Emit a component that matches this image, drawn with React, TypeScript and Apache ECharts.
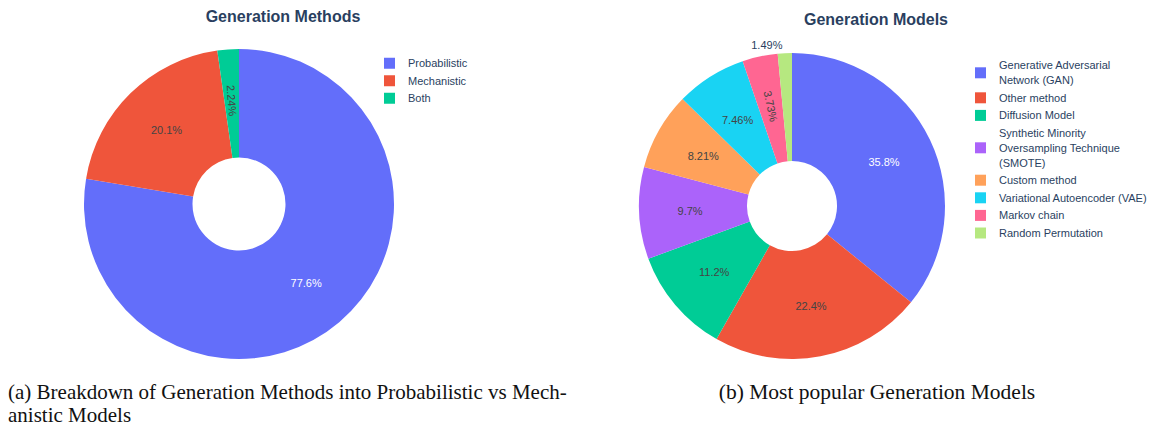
import React, { useEffect, useRef } from "react";
import * as echarts from "echarts";

// ---- data ----
const methodNames = ["Probabilistic", "Mechanistic", "Both"];
const methodCounts = [104, 27, 3];

const modelNames = [
  "Generative Adversarial Network (GAN)",
  "Other method",
  "Diffusion Model",
  "Synthetic Minority Oversampling Technique (SMOTE)",
  "Custom method",
  "Variational Autoencoder (VAE)",
  "Markov chain",
  "Random Permutation",
];
const modelLegendLabels = [
  "Generative Adversarial\nNetwork (GAN)",
  "Other method",
  "Diffusion Model",
  "Synthetic Minority\nOversampling Technique\n(SMOTE)",
  "Custom method",
  "Variational Autoencoder (VAE)",
  "Markov chain",
  "Random Permutation",
];
const modelCounts = [48, 30, 15, 13, 11, 10, 5, 2];

const palette = ["#636efa", "#EF553B", "#00cc96", "#ab63fa", "#FFA15A", "#19d3f3", "#FF6692", "#B6E880"];

const titleLeft = "Generation Methods";
const titleRight = "Generation Models";
const captionLeft = "(a) Breakdown of Generation Methods into Probabilistic vs Mech-\nanistic Models";
const captionRight = "(b) Most popular Generation Models";

const SANS = "'Liberation Sans', Arial, sans-serif";
const SERIF = "'Liberation Serif', 'Times New Roman', serif";

function pctFormatter(counts: number[]) {
  const total = counts.reduce((a, b) => a + b, 0);
  return (p: any) => parseFloat(((p.value / total) * 100).toPrecision(3)) + "%";
}

export default function App() {
  const ref = useRef<HTMLDivElement>(null);
  useEffect(() => {
    if (!ref.current) return;
    const chart = echarts.init(ref.current, undefined, { renderer: "svg" });

    const methodData = methodNames.map((n, i) => {
      const d: any = { name: n, value: methodCounts[i], itemStyle: { color: palette[i] } };
      if (i === 0) d.label = { color: "#ffffff" };
      if (i === 2) d.label = { rotate: "radial" };
      return d;
    });
    const modelData = modelNames.map((n, i) => {
      const d: any = { name: n, value: modelCounts[i], itemStyle: { color: palette[i] } };
      if (i === 0) d.label = { color: "#ffffff" };
      if (i === 6) d.label = { rotate: "radial" };
      if (i === 7) {
        d.label = { position: "outside", color: "#2a3f5f", distanceToLabelLine: 2 };
        d.labelLine = { show: false, length: 8, length2: 0 };
      }
      return d;
    });

    const labelBase = {
      show: true,
      position: "inside",
      fontSize: 11,
      fontFamily: SANS,
      color: "#444444",
    };

    const legendBase = {
      orient: "vertical",
      icon: "rect",
      itemWidth: 11,
      itemHeight: 11,
      padding: 0,
      selectedMode: false,
      textStyle: {
        fontSize: 11,
        fontFamily: SANS,
        color: "#2a3f5f",
        padding: [0, 0, 0, 8],
      },
    };

    chart.setOption({
      animation: false,
      backgroundColor: "#ffffff",
      legend: [
        {
          ...legendBase,
          data: methodNames,
          left: 384,
          top: 56,
          itemGap: 3,
          textStyle: { ...legendBase.textStyle, lineHeight: 14.5 },
        },
        {
          ...legendBase,
          data: modelNames,
          left: 975,
          top: 58,
          itemGap: 2.8,
          textStyle: { ...legendBase.textStyle, lineHeight: 14.8 },
          formatter: (name: string) => modelLegendLabels[modelNames.indexOf(name)],
        },
      ],
      series: [
        {
          type: "pie",
          center: [239, 204],
          radius: [46.5, 155],
          startAngle: 90,
          clockwise: true,
          avoidLabelOverlap: false,
          label: { ...labelBase, formatter: pctFormatter(methodCounts) },
          labelLine: { show: false },
          emphasis: { disabled: true },
          data: methodData,
        },
        {
          type: "pie",
          center: [792, 206],
          radius: [45, 153],
          startAngle: 90,
          clockwise: true,
          avoidLabelOverlap: false,
          label: { ...labelBase, formatter: pctFormatter(modelCounts) },
          labelLine: { show: false },
          emphasis: { disabled: true },
          data: modelData,
        },
      ],
      graphic: [
        {
          type: "text",
          x: 283,
          y: 16,
          style: {
            text: titleLeft,
            fontSize: 16,
            fontWeight: "bold",
            fontFamily: SANS,
            fill: "#2a3f5f",
            align: "center",
            verticalAlign: "middle",
          },
        },
        {
          type: "text",
          x: 876,
          y: 19.5,
          style: {
            text: titleRight,
            fontSize: 16,
            fontWeight: "bold",
            fontFamily: SANS,
            fill: "#2a3f5f",
            align: "center",
            verticalAlign: "middle",
          },
        },
        {
          type: "text",
          x: 8,
          y: 380,
          style: {
            text: captionLeft,
            fontSize: 21,
            lineHeight: 23,
            fontFamily: SERIF,
            fill: "#111111",
            align: "left",
            verticalAlign: "top",
          },
        },
        {
          type: "text",
          x: 877,
          y: 380,
          style: {
            text: captionRight,
            fontSize: 21.5,
            lineHeight: 23,
            fontFamily: SERIF,
            fill: "#111111",
            align: "center",
            verticalAlign: "top",
          },
        },
      ],
    });
    return () => chart.dispose();
  }, []);
  return (
    <div
      ref={ref}
      style={{ position: "absolute", left: 0, top: 0, width: 1156, height: 429 }}
    />
  );
}
